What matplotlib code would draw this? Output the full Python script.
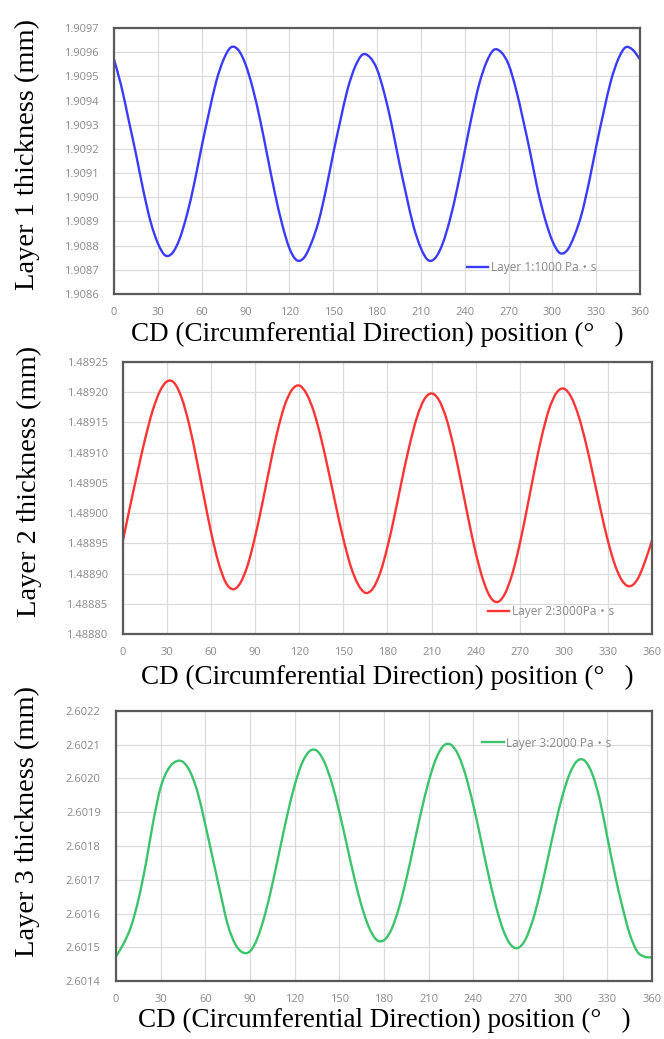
import numpy as np
import matplotlib
matplotlib.use("Agg")
import matplotlib.pyplot as plt
from matplotlib.path import Path
from matplotlib.patches import PathPatch

# CD position (deg), read every 5 degrees
angle = np.arange(0, 361, 5)

layer1 = [1.90957, 1.90946, 1.90932, 1.90918, 1.90903, 1.90890, 1.90881, 1.90876, 1.90877, 1.90883,
          1.90893, 1.90906, 1.90921, 1.90935, 1.90948, 1.90957, 1.90962, 1.90961, 1.90955, 1.90945,
          1.90932, 1.90917, 1.90902, 1.90889, 1.90879, 1.90874, 1.90875, 1.90881, 1.90890, 1.90903,
          1.90918, 1.90932, 1.90945, 1.90954, 1.90959, 1.90958, 1.90953, 1.90943, 1.90930, 1.90915,
          1.90901, 1.90888, 1.90879, 1.90874, 1.90875, 1.90881, 1.90891, 1.90904, 1.90919, 1.90934,
          1.90947, 1.90956, 1.90961, 1.90960, 1.90955, 1.90945, 1.90932, 1.90918, 1.90903, 1.90891,
          1.90882, 1.90877, 1.90878, 1.90884, 1.90893, 1.90906, 1.90921, 1.90935, 1.90948, 1.90957,
          1.90962, 1.90961, 1.90957]

layer2 = [1.488955, 1.489013, 1.489069, 1.489122, 1.489168, 1.489201, 1.489218, 1.489215, 1.489190, 1.489147,
          1.489090, 1.489028, 1.488968, 1.488918, 1.488885, 1.488874, 1.488885, 1.488915, 1.488962, 1.489018,
          1.489078, 1.489134, 1.489178, 1.489204, 1.489211, 1.489197, 1.489167, 1.489122, 1.489068, 1.489011,
          1.488957, 1.488912, 1.488882, 1.488868, 1.488875, 1.488901, 1.488944, 1.488998, 1.489057, 1.489112,
          1.489158, 1.489188, 1.489198, 1.489187, 1.489157, 1.489110, 1.489052, 1.488991, 1.488935, 1.488890,
          1.488861, 1.488853, 1.488867, 1.488900, 1.488949, 1.489008, 1.489070, 1.489127, 1.489172, 1.489199,
          1.489206, 1.489192, 1.489161, 1.489116, 1.489062, 1.489006, 1.488954, 1.488913, 1.488887, 1.488879,
          1.488890, 1.488918, 1.488955]

layer3 = [2.601473, 2.601510, 2.601560, 2.601640, 2.601746, 2.601872, 2.601974, 2.602027, 2.602050, 2.602049,
          2.602018, 2.601956, 2.601863, 2.601763, 2.601663, 2.601568, 2.601510, 2.601485, 2.601488, 2.601527,
          2.601596, 2.601687, 2.601789, 2.601891, 2.601980, 2.602046, 2.602081, 2.602082, 2.602048, 2.601986,
          2.601901, 2.601804, 2.601707, 2.601622, 2.601558, 2.601522, 2.601521, 2.601553, 2.601616, 2.601702,
          2.601802, 2.601902, 2.601991, 2.602059, 2.602097, 2.602100, 2.602069, 2.602007, 2.601921, 2.601821,
          2.601718, 2.601625, 2.601552, 2.601508, 2.601498, 2.601523, 2.601581, 2.601664, 2.601762, 2.601862,
          2.601951, 2.602017, 2.602053, 2.602052, 2.602012, 2.601936, 2.601826, 2.601718, 2.601622, 2.601540,
          2.601488, 2.601472, 2.601470]

x_ticks = [0, 30, 60, 90, 120, 150, 180, 210, 240, 270, 300, 330, 360]
y1_ticks = [1.9086, 1.9087, 1.9088, 1.9089, 1.9090, 1.9091, 1.9092, 1.9093, 1.9094, 1.9095, 1.9096, 1.9097]
y2_ticks = [1.48880, 1.48885, 1.48890, 1.48895, 1.48900, 1.48905, 1.48910, 1.48915, 1.48920, 1.48925]
y3_ticks = [2.6014, 2.6015, 2.6016, 2.6017, 2.6018, 2.6019, 2.6020, 2.6021, 2.6022]

labels = ["Layer 1:1000 Pa\u30fbs", "Layer 2:3000Pa\u30fbs", "Layer 3:2000 Pa\u30fbs"]
ylabels = ["Layer 1 thickness (mm)", "Layer 2 thickness (mm)", "Layer 3 thickness (mm)"]
xlabel = "CD (Circumferential Direction) position (\u00b0   )"


def smooth_path(x, y):
    # Excel style smoothed line: cubic bezier through every point
    p = np.column_stack([x, y]).astype(float)
    n = len(p)
    verts = [p[0]]
    codes = [Path.MOVETO]
    for i in range(n - 1):
        p0 = p[max(i - 1, 0)]
        p3 = p[min(i + 2, n - 1)]
        c1 = p[i] + (p[i + 1] - p0) / 6.0
        c2 = p[i + 1] - (p3 - p[i]) / 6.0
        verts += [c1, c2, p[i + 1]]
        codes += [Path.CURVE4] * 3
    return Path(verts, codes)


fig = plt.figure(figsize=(6.64, 10.39), dpi=100)

panels = [
    dict(rect=[0.1717, 0.7170, 0.7922, 0.2560], data=layer1, yt=y1_ticks, fmt="%.4f",
         color="#3b3bff", ylab=(-0.141, 0.525), xlab=-0.152, leg=(0.671, 0.098)),
    dict(rect=[0.1852, 0.3898, 0.7967, 0.2618], data=layer2, yt=y2_ticks, fmt="%.5f",
         color="#ff3535", ylab=(-0.153, 0.56), xlab=-0.160, leg=(0.690, 0.081)),
    dict(rect=[0.1747, 0.0558, 0.8072, 0.2599], data=layer3, yt=y3_ticks, fmt="%.4f",
         color="#3cc36b", ylab=(-0.142, 0.59), xlab=-0.146, leg=(0.683, 0.881)),
]

for i, p in enumerate(panels):
    ax = fig.add_axes(p["rect"])
    ax.add_patch(PathPatch(smooth_path(angle, p["data"]), fill=False,
                           edgecolor=p["color"], lw=1.7, capstyle="round", joinstyle="round"))
    ax.plot([], [], color=p["color"], lw=1.7, label=labels[i])
    ax.set_xlim(0, 360)
    ax.set_ylim(p["yt"][0], p["yt"][-1])
    ax.set_xticks(x_ticks)
    ax.set_yticks(p["yt"])
    ax.set_yticklabels([p["fmt"] % v for v in p["yt"]])
    ax.grid(True, color="#dcdcdc", lw=0.9)
    ax.set_axisbelow(True)
    for s in ax.spines.values():
        s.set_color("#5a5a5a")
        s.set_linewidth(1.6)
    ax.tick_params(length=0, labelsize=8, labelcolor="#8a8a8a")
    ax.tick_params(axis="y", pad=11)
    ax.tick_params(axis="x", pad=9.5)
    for t in ax.get_xticklabels() + ax.get_yticklabels():
        t.set_fontfamily("Open Sans")

    ax.set_ylabel(ylabels[i], family="Liberation Serif", fontsize=20.5)
    ax.yaxis.set_label_coords(*p["ylab"])
    ax.set_xlabel(xlabel, family="Liberation Serif", fontsize=19.5, va="center")
    ax.xaxis.set_label_coords(0.5, p["xlab"])

    leg = ax.legend(loc="center left", bbox_to_anchor=p["leg"], frameon=False,
                    borderpad=0, borderaxespad=0, handlelength=1.8, handletextpad=0.2,
                    prop={"family": ["Open Sans", "Noto Sans CJK JP"], "size": 8.6})
    for t in leg.get_texts():
        t.set_color("#8a8a8a")

fig.savefig("out.png", dpi=100)
